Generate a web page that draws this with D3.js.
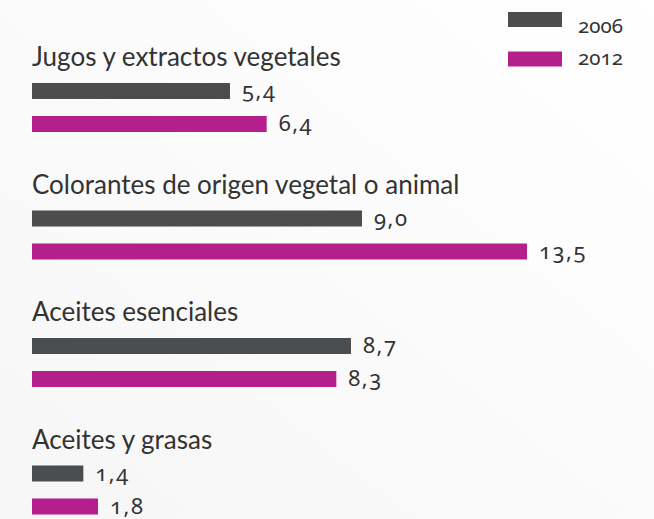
<!DOCTYPE html>
<html>
<head>
<meta charset="utf-8">
<script src="https://cdn.jsdelivr.net/npm/d3@7"></script>
<style>
  body { margin: 0; background: #fff; }
  svg text { font-family: Lato, "Noto Sans", sans-serif; fill: #333; }
  svg text.num { font-family: "Noto Sans", sans-serif; font-variant-numeric: oldstyle-nums; font-feature-settings: "onum" 1; }
</style>
</head>
<body>
<div id="chart"></div>
<script>
// data
var categories = ["Jugos y extractos vegetales", "Colorantes de origen vegetal o animal", "Aceites esenciales", "Aceites y grasas"];
var years = ["2006", "2012"];
var values2006 = [5.4, 9.0, 8.7, 1.4];
var values2012 = [6.4, 13.5, 8.3, 1.8];
var labels2006 = ["5,4", "9,0", "8,7", "1,4"];
var labels2012 = ["6,4", "13,5", "8,3", "1,8"];

var svgWidth = 654, svgHeight = 519;
var colors = {"2006": "#4c4d4f", "2012": "#b41f8b"};

var svg = d3.select("#chart").append("svg")
    .attr("width", svgWidth)
    .attr("height", svgHeight);

// faint background shading
var defs = svg.append("defs");
var grad = defs.append("linearGradient").attr("id", "bg")
    .attr("x1", "100%").attr("y1", "0%").attr("x2", "0%").attr("y2", "100%");
grad.append("stop").attr("offset", "0%").attr("stop-color", "#ffffff");
grad.append("stop").attr("offset", "100%").attr("stop-color", "#f6f6f6");
svg.append("rect").attr("width", svgWidth).attr("height", svgHeight).attr("fill", "url(#bg)");

// scales
var x = d3.scaleLinear().domain([0, 13.5]).range([32, 527]);
var yGroup = d3.scaleBand().domain(categories).range([66, 576]).paddingInner(0).paddingOuter(0);
var yBar = d3.scaleOrdinal().domain(years).range([17, 50]);
var barH = 16;

var rows = categories.map(function(c, i) {
  return {cat: c, bars: [
    {year: "2006", v: values2006[i], label: labels2006[i]},
    {year: "2012", v: values2012[i], label: labels2012[i]}
  ]};
});

var group = svg.selectAll(".group")
    .data(rows)
    .enter().append("g")
    .attr("class", "group")
    .attr("transform", function(d) { return "translate(0," + yGroup(d.cat) + ")"; });

// category titles (y=0 is the baseline)
group.append("text")
    .attr("x", 32)
    .attr("y", 0)
    .style("font-size", "26px")
    .text(function(d) { return d.cat; });

var bar = group.selectAll(".bar")
    .data(function(d) { return d.bars; })
    .enter().append("g")
    .attr("class", "bar");

bar.append("rect")
    .attr("x", x(0))
    .attr("y", function(d) { return yBar(d.year); })
    .attr("width", function(d) { return x(d.v) - x(0); })
    .attr("height", barH)
    .attr("fill", function(d) { return colors[d.year]; });

// value labels
bar.append("text")
    .attr("class", "num")
    .attr("x", function(d) { return x(d.v) + 12; })
    .attr("y", function(d) { return yBar(d.year) + barH - 1; })
    .style("font-size", "22px")
    .style("letter-spacing", "1.5px")
    .text(function(d) { return d.label; });

// legend
var legend = svg.selectAll(".legend")
    .data(years)
    .enter().append("g")
    .attr("class", "legend")
    .attr("transform", function(d, i) { return "translate(508," + (12 + i * 39.5) + ")"; });

legend.append("rect")
    .attr("width", 54)
    .attr("height", 15)
    .attr("fill", function(d) { return colors[d]; });

legend.append("text")
    .attr("class", "num")
    .attr("x", 70)
    .attr("y", function(d, i) { return i === 0 ? 21 : 13.5; })
    .style("font-size", "20.5px")
    .text(function(d) { return d; });
</script>
</body>
</html>
